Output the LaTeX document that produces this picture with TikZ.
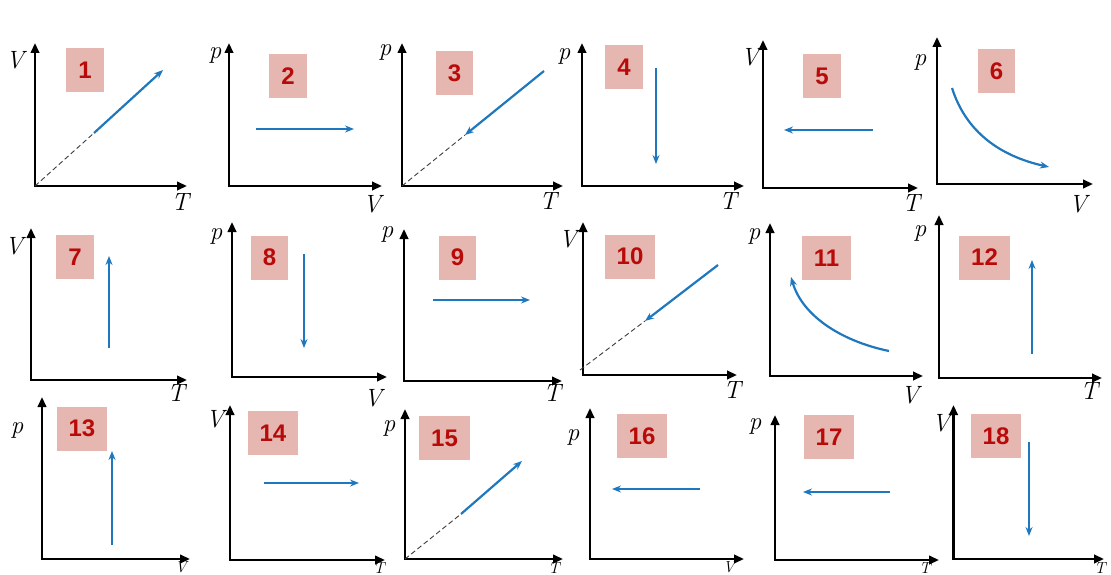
\documentclass[tikz,border=0pt]{standalone}
\usepackage{fontspec}
\newfontfamily\numfont{Liberation Sans}
\usetikzlibrary{arrows.meta}
\definecolor{boxfill}{RGB}{230,182,176}
\definecolor{numred}{RGB}{185,10,10}
\definecolor{procblue}{RGB}{31,120,190}
\definecolor{guidegray}{RGB}{60,60,60}
\begin{document}
\begin{tikzpicture}[x=1pt,y=-1pt,
  axis/.style={line width=2.3pt,black,{Triangle[length=10pt,width=8.5pt]}-{Triangle[length=10pt,width=8.5pt]}},
  lab/.style={inner sep=0pt,font=\fontsize{25}{28}\selectfont\itshape},
  lowlab/.style={inner sep=0pt,anchor=south,font=\fontsize{16}{18}\selectfont\itshape},
  numbox/.style={fill=boxfill,text=numred,font=\numfont\bfseries\fontsize{24}{28}\selectfont,minimum height=44pt,minimum width=37pt,inner xsep=12pt},
  proc/.style={line width=2.2pt,procblue,-{Stealth[length=9pt,width=7pt]}},
  guide/.style={line width=0.9pt,guidegray,dash pattern=on 5pt off 3pt}]
\useasboundingbox (0,0) rectangle (1111,575);
% ---------- Row 1 ----------
% 1
\coordinate (o1) at (35,186); \coordinate (y1) at (35,43); \coordinate (x1) at (187,186);
\draw[axis] (y1) -- (o1) -- (x1);
\node[lab] (ly1) at (15,60) {V}; \node[lab] (lx1) at (180,202) {T};
\node[numbox] (b1) at (85,70.5) {1};
\coordinate (s1) at (94,133); \coordinate (e1) at (163,70);
\draw[guide] (o1) -- (s1); \draw[proc] (s1) -- (e1);
% 2
\coordinate (o2) at (229,186); \coordinate (y2) at (229,43); \coordinate (x2) at (382,186);
\draw[axis] (y2) -- (o2) -- (x2);
\node[lab] (ly2) at (215,55) {p}; \node[lab] (lx2) at (372,204) {V};
\node[numbox] (b2) at (288,76) {2};
\coordinate (s2) at (256,129); \coordinate (e2) at (354,129);
\draw[proc] (s2) -- (e2);
% 3
\coordinate (o3) at (402,186); \coordinate (y3) at (402,43); \coordinate (x3) at (563,186);
\draw[axis] (y3) -- (o3) -- (x3);
\node[lab] (ly3) at (385,52) {p}; \node[lab] (lx3) at (548,201) {T};
\node[numbox] (b3) at (454.5,73.5) {3};
\coordinate (s3) at (544,71); \coordinate (e3) at (465,135);
\draw[guide] (o3) -- (e3); \draw[proc] (s3) -- (e3);
% 4
\coordinate (o4) at (582,186); \coordinate (y4) at (582,43); \coordinate (x4) at (744,186);
\draw[axis] (y4) -- (o4) -- (x4);
\node[lab] (ly4) at (564,56) {p}; \node[lab] (lx4) at (728,201) {T};
\node[numbox] (b4) at (624,67) {4};
\coordinate (s4) at (656,68); \coordinate (e4) at (656,164);
\draw[proc] (s4) -- (e4);
% 5
\coordinate (o5) at (763,188); \coordinate (y5) at (763,40); \coordinate (x5) at (918,188);
\draw[axis] (y5) -- (o5) -- (x5);
\node[lab] (ly5) at (750,57) {V}; \node[lab] (lx5) at (911,203) {T};
\node[numbox] (b5) at (822,76.5) {5};
\coordinate (s5) at (873,130); \coordinate (e5) at (784,130);
\draw[proc] (s5) -- (e5);
% 6
\coordinate (o6) at (937,184); \coordinate (y6) at (937,37); \coordinate (x6) at (1093,184);
\draw[axis] (y6) -- (o6) -- (x6);
\node[lab] (ly6) at (920,62) {p}; \node[lab] (lx6) at (1078,204) {V};
\node[numbox] (b6) at (996.5,71.5) {6};
\coordinate (s6) at (952,88); \coordinate (e6) at (1049,167);
\draw[proc] (s6) .. controls (966,132) and (1000,156) .. (e6);
% ---------- Row 2 ----------
% 7
\coordinate (o7) at (31,380); \coordinate (y7) at (31,228); \coordinate (x7) at (187,380);
\draw[axis] (y7) -- (o7) -- (x7);
\node[lab] (ly7) at (14,246) {V}; \node[lab] (lx7) at (176,393) {T};
\node[numbox] (b7) at (75,257) {7};
\coordinate (s7) at (109,348); \coordinate (e7) at (109,256);
\draw[proc] (s7) -- (e7);
% 8
\coordinate (o8) at (232,377); \coordinate (y8) at (232,222); \coordinate (x8) at (387,377);
\draw[axis] (y8) -- (o8) -- (x8);
\node[lab] (ly8) at (216,236) {p}; \node[lab] (lx8) at (373,398) {V};
\node[numbox] (b8) at (269.5,257.5) {8};
\coordinate (s8) at (304,254); \coordinate (e8) at (304,348);
\draw[proc] (s8) -- (e8);
% 9
\coordinate (o9) at (404,381); \coordinate (y9) at (404,229); \coordinate (x9) at (562,381);
\draw[axis] (y9) -- (o9) -- (x9);
\node[lab] (ly9) at (387,234) {p}; \node[lab] (lx9) at (552,393) {T};
\node[numbox] (b9) at (457.5,257.5) {9};
\coordinate (s9) at (433,300); \coordinate (e9) at (530,300);
\draw[proc] (s9) -- (e9);
% 10
\coordinate (o10) at (583,375); \coordinate (y10) at (583,222); \coordinate (x10) at (737,375);
\draw[axis] (y10) -- (o10) -- (x10);
\node[lab] (ly10) at (568,239) {V}; \node[lab] (lx10) at (732,390) {T};
\node[numbox] (b10) at (630,256.5) {10};
\coordinate (g10) at (580,370); \coordinate (s10) at (718,265); \coordinate (e10) at (645,321);
\draw[guide] (g10) -- (e10); \draw[proc] (s10) -- (e10);
% 11
\coordinate (o11) at (770,376); \coordinate (y11) at (770,223); \coordinate (x11) at (923,376);
\draw[axis] (y11) -- (o11) -- (x11);
\node[lab] (ly11) at (754,236) {p}; \node[lab] (lx11) at (910,395) {V};
\node[numbox] (b11) at (826.5,258) {11};
\coordinate (s11) at (889,351); \coordinate (e11) at (791,277);
\draw[proc] (s11) .. controls (845,342) and (803,318) .. (e11);
% 12
\coordinate (o12) at (939,378); \coordinate (y12) at (939,215); \coordinate (x12) at (1102,378);
\draw[axis] (y12) -- (o12) -- (x12);
\node[lab] (ly12) at (920,233) {p}; \node[lab] (lx12) at (1089,391) {T};
\node[numbox] (b12) at (984.5,257.5) {12};
\coordinate (s12) at (1032,354); \coordinate (e12) at (1032,260);
\draw[proc] (s12) -- (e12);
% ---------- Row 3 ----------
% 13
\coordinate (o13) at (42,559); \coordinate (y13) at (42,397); \coordinate (x13) at (190,559);
\draw[axis] (y13) -- (o13) -- (x13);
\node[lab] (ly13) at (17,430) {p}; \node[lowlab] (lx13) at (181,573.5) {V};
\node[numbox] (b13) at (82,428.5) {13};
\coordinate (s13) at (112,545); \coordinate (e13) at (112,451);
\draw[proc] (s13) -- (e13);
% 14
\coordinate (o14) at (230,560); \coordinate (y14) at (230,405); \coordinate (x14) at (385,560);
\draw[axis] (y14) -- (o14) -- (x14);
\node[lab] (ly14) at (215,419) {V}; \node[lowlab] (lx14) at (379,573.5) {T};
\node[numbox] (b14) at (273,433) {14};
\coordinate (s14) at (264,483); \coordinate (e14) at (359,483);
\draw[proc] (s14) -- (e14);
% 15
\coordinate (o15) at (405,559); \coordinate (y15) at (405,409); \coordinate (x15) at (563,559);
\draw[axis] (y15) -- (o15) -- (x15);
\node[lab] (ly15) at (389,428) {p}; \node[lowlab] (lx15) at (554,573.5) {T};
\node[numbox] (b15) at (444.5,438) {15};
\coordinate (s15) at (461,514); \coordinate (e15) at (522,461);
\draw[guide] (o15) -- (s15); \draw[proc] (s15) -- (e15);
% 16
\coordinate (o16) at (590,559); \coordinate (y16) at (590,408); \coordinate (x16) at (744,559);
\draw[axis] (y16) -- (o16) -- (x16);
\node[lab] (ly16) at (573,437) {p}; \node[lowlab] (lx16) at (729,573.5) {V};
\node[numbox] (b16) at (642,436) {16};
\coordinate (s16) at (700,489); \coordinate (e16) at (612,489);
\draw[proc] (s16) -- (e16);
% 17
\coordinate (o17) at (775,560); \coordinate (y17) at (775,415); \coordinate (x17) at (939,560);
\draw[axis] (y17) -- (o17) -- (x17);
\node[lab] (ly17) at (755,426) {p}; \node[lowlab] (lx17) at (925,573.5) {T};
\node[numbox] (b17) at (829,437) {17};
\coordinate (s17) at (890,492); \coordinate (e17) at (803,492);
\draw[proc] (s17) -- (e17);
% 18
\coordinate (o18) at (953.5,559); \coordinate (y18) at (953.5,405); \coordinate (x18) at (1104,559);
\draw[axis] (y18) -- (o18) -- (x18);
\node[lab] (ly18) at (941,423) {V}; \node[lowlab] (lx18) at (1100,573.5) {T};
\node[numbox] (b18) at (996,436) {18};
\coordinate (s18) at (1029,442); \coordinate (e18) at (1029,536);
\draw[proc] (s18) -- (e18);
\end{tikzpicture}
\end{document}
